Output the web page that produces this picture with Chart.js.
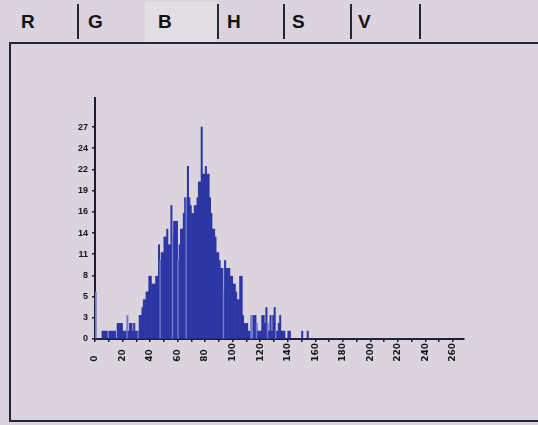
<!DOCTYPE html>
<html>
<head>
<meta charset="utf-8">
<script src="https://cdn.jsdelivr.net/npm/chart.js@4"></script>
<style>
  body { margin: 0; width: 538px; height: 425px; overflow: hidden; position: relative;
         background: #dbd3de; font-family: Arial, "Liberation Sans", sans-serif; }
  .tab { position: absolute; top: 11px; font-weight: bold; font-size: 19px; color: #121212; }
  .sep { position: absolute; top: 4px; width: 2px; height: 35px; background: #26262e; }
  #selTab { position: absolute; left: 145px; top: 2px; width: 72px; height: 40px; background: #e3dee4; }
  #panel { position: absolute; left: 9px; top: 42px; width: 540px; height: 376px;
           border-top: 2px solid #25253a; border-left: 2px solid #25253a; border-bottom: 2px solid #25253a; }
  #chart { position: absolute; left: 0; top: 0; }
</style>
</head>
<body>
<div id="selTab"></div>
<div class="tab" style="left:21px">R</div>
<div class="sep" style="left:77px"></div>
<div class="tab" style="left:88px">G</div>
<div class="tab" style="left:158px">B</div>
<div class="sep" style="left:217px"></div>
<div class="tab" style="left:227px">H</div>
<div class="sep" style="left:283px"></div>
<div class="tab" style="left:292px">S</div>
<div class="sep" style="left:350px"></div>
<div class="tab" style="left:358px">V</div>
<div class="sep" style="left:419px"></div>
<div id="panel"></div>
<canvas id="chart" width="538" height="425"></canvas>
<script>
// histogram counts for pixel values 0..255 (blue channel)
const counts = [
  6, 0, 0, 0, 0, 1, 1, 1, 1, 0,
  1, 1, 1, 1, 1, 0, 2, 2, 2, 2,
  1, 1, 1, 3, 1, 2, 2, 1, 2, 1,
  1, 1, 3, 3, 4, 5, 5, 6, 6, 8,
  8, 7, 7, 7, 8, 8, 12, 10, 11, 11,
  13, 13, 14, 12, 12, 17, 13, 15, 15, 15,
  10, 12, 14, 14, 16, 18, 18, 22, 18, 17,
  16, 16, 17, 17, 18, 20, 20, 27, 21, 21,
  22, 21, 21, 18, 16, 14, 14, 13, 11, 11,
  10, 9, 9, 6, 10, 9, 9, 9, 8, 8,
  7, 7, 6, 5, 5, 8, 8, 3, 2, 2,
  2, 1, 1, 3, 3, 3, 3, 2, 1, 1,
  1, 3, 3, 2, 4, 2, 1, 3, 1, 3,
  4, 1, 1, 2, 3, 1, 1, 1, 0, 0,
  1, 1, 0, 0, 0, 0, 0, 0, 0, 0,
  1, 0, 0, 0, 1, 0, 0, 0, 0, 0,
  0, 0, 0, 0, 0, 0, 0, 0, 0, 0,
  0, 0, 0, 0, 0, 0, 0, 0, 0, 0,
  0, 0, 0, 0, 0, 0, 0, 0, 0, 0,
  0, 0, 0, 0, 0, 0, 0, 0, 0, 0,
  0, 0, 0, 0, 0, 0, 0, 0, 0, 0,
  0, 0, 0, 0, 0, 0, 0, 0, 0, 0,
  0, 0, 0, 0, 0, 0, 0, 0, 0, 0,
  0, 0, 0, 0, 0, 0, 0, 0, 0, 0,
  0, 0, 0, 0, 0, 0, 0, 0, 0, 0,
  0, 0, 0, 0, 0, 0
];
// bins that show up in the lighter blue
const lightBins = [0, 23, 31, 47, 56, 60, 66, 93, 113, 114, 117, 125, 131];

const yTickValues = [0, 2.7, 5.4, 8.1, 10.8, 13.5, 16.2, 18.9, 21.6, 24.3, 27];
const yTickLabels = ["0", "3", "5", "8", "11", "14", "16", "19", "22", "24", "27"];
const xTickValues = [0, 10, 20, 30, 40, 50, 60, 70, 80, 90, 100, 110, 120, 130,
                     140, 150, 160, 170, 180, 190, 200, 210, 220, 230, 240, 250, 260];
const xTickLabels = ["0", "20", "40", "60", "80", "100", "120", "140", "160", "180", "200", "220", "240", "260"];

const axisColor = "#1c1c34";

new Chart(document.getElementById("chart"), {
  type: "bar",
  data: {
    datasets: [{
      data: counts.map((c, i) => ({ x: i + 0.5, y: c })),
      backgroundColor: ctx => lightBins.includes(ctx.dataIndex) ? "#6f7ad0" : "#2c36a4",
      borderWidth: 0,
      barPercentage: 1,
      categoryPercentage: 1
    }]
  },
  options: {
    responsive: false,
    animation: false,
    layout: { padding: { left: 0, right: 74, top: 98, bottom: 46 } },
    plugins: { legend: { display: false }, tooltip: { enabled: false } },
    scales: {
      x: {
        type: "linear",
        offset: false,
        min: 0,
        max: 268,
        afterFit: s => { s.height = 40; },
        afterBuildTicks: s => { s.ticks = xTickValues.map(v => ({ value: v })); },
        border: { display: true, color: axisColor, width: 2 },
        grid: { offset: false, drawOnChartArea: false, drawTicks: true, tickLength: 3, color: axisColor, lineWidth: 1.5 },
        ticks: {
          autoSkip: false,
          minRotation: 90,
          maxRotation: 90,
          padding: 1,
          color: "#151515",
          font: { family: "DejaVu Sans", weight: "bold", size: 9 },
          callback: v => {
            const i = xTickLabels.indexOf(String(v));
            return i < 0 ? "" : xTickLabels[i].padEnd(3, "\u2007");
          }
        }
      },
      y: {
        min: 0,
        max: 30.7,
        afterFit: s => { s.width = 95; },
        afterBuildTicks: s => { s.ticks = yTickValues.map(v => ({ value: v })); },
        border: { display: true, color: axisColor, width: 2 },
        grid: { drawOnChartArea: false, drawTicks: true, tickLength: 3, color: axisColor, lineWidth: 1.5 },
        ticks: {
          padding: 4,
          color: "#151515",
          font: { family: "Arial", weight: "bold", size: 9 },
          callback: (v, i) => yTickLabels[i]
        }
      }
    }
  }
});
</script>
</body>
</html>
